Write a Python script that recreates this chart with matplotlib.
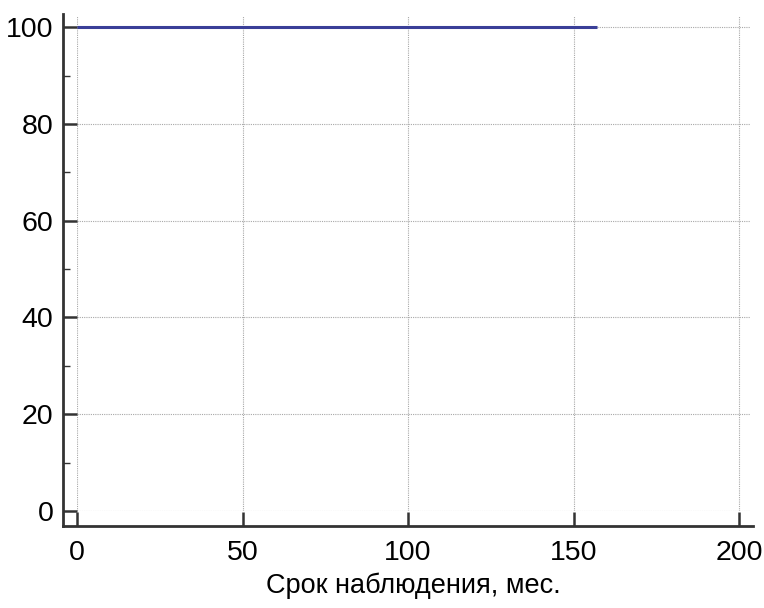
import numpy as np
import matplotlib
matplotlib.use('Agg')
import matplotlib.pyplot as plt

plt.rcParams['font.family'] = ['Liberation Sans', 'DejaVu Sans']

# survival curve (all patients event-free through follow-up)
time_months = [0, 157]
survival_pct = [100, 100]

x_ticks = [0, 50, 100, 150, 200]
y_ticks = [0, 20, 40, 60, 80, 100]

fig = plt.figure(figsize=(7.64, 6.08), dpi=100)
ax = fig.add_axes([0.1008, 0.1595, 0.8809, 0.8142])

ax.step(time_months, survival_pct, where='post', color='#3a3f98', lw=2.2,
        solid_capstyle='butt', zorder=3)

ax.set_xlim(0, 203.3)
ax.set_ylim(0, 102.3)
ax.set_xticks(x_ticks)
ax.set_yticks(y_ticks)
ax.set_yticks(np.arange(10, 100, 20), minor=True)

ax.grid(True, which='major', color='#a8a8a8', linestyle=(0, (1, 1)), lw=0.8)

for side in ['top', 'right']:
    ax.spines[side].set_visible(False)
# spines pushed out from the data area (offsets in points)
ax.spines['left'].set_position(('outward', 10))
ax.spines['bottom'].set_position(('outward', 10.8))
for side in ['left', 'bottom']:
    ax.spines[side].set_color('#333333')
    ax.spines[side].set_linewidth(2.0)
ax.spines['left'].set_bounds(-3.1, 102.7)
ax.spines['bottom'].set_bounds(-4.2, 204.2)

ax.tick_params(axis='both', which='major', direction='in', length=10.2,
               width=1.8, color='#333333', labelsize=20.5)
ax.tick_params(axis='x', which='major', pad=10)
ax.tick_params(axis='y', which='major', pad=7)
ax.tick_params(axis='y', which='minor', direction='in', length=5, width=1.0,
               color='#333333')

ax.set_xlabel('Срок наблюдения, мес.', fontsize=19.5, labelpad=5)

fig.savefig('out.png', dpi=100)
